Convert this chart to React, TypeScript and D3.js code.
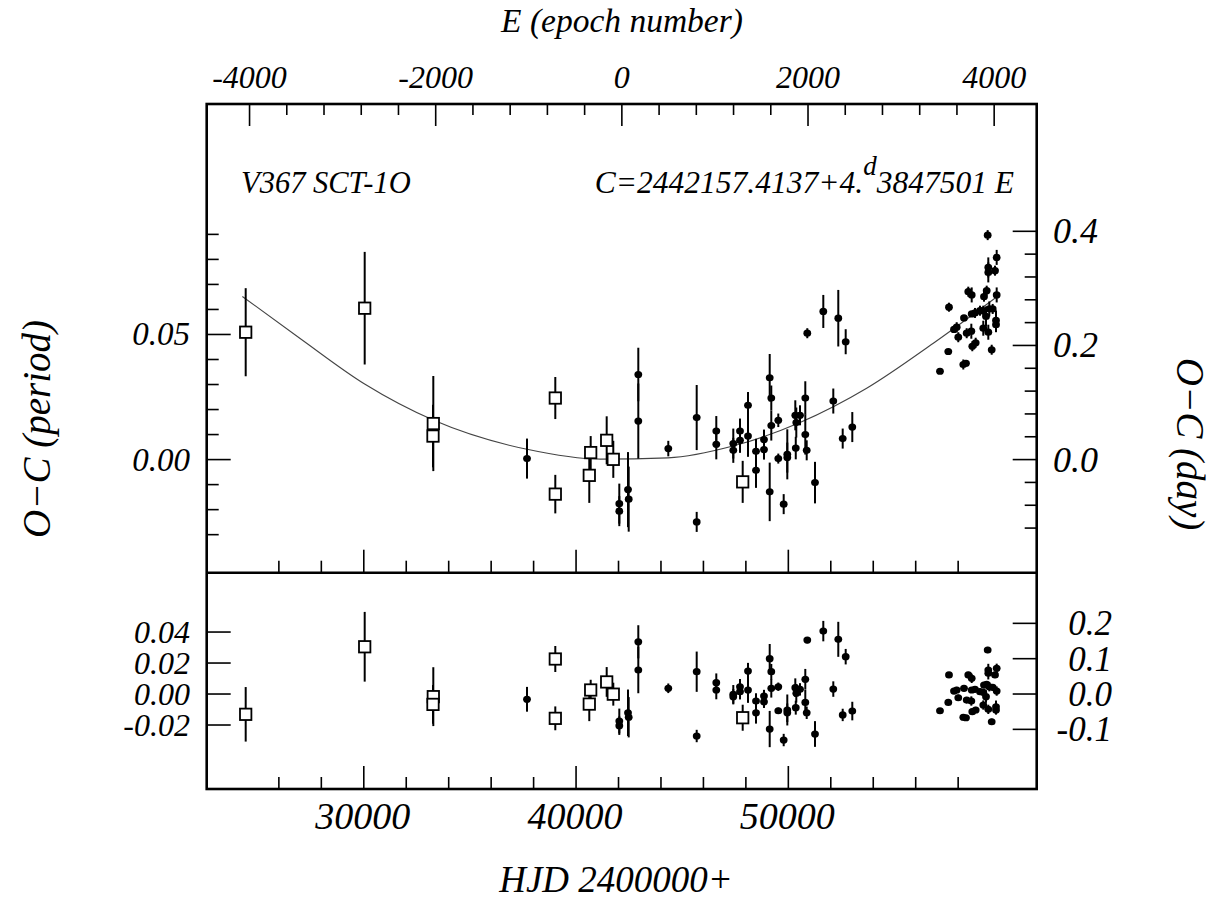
import * as d3 from 'd3';

// ephemeris C = T0 + P * E
const T0 = 42157.4137;
const P = 4.3847501;

// photographic / visual timings (open squares): [HJD-2400000, O-C (period), error, residual]
const SQUARES: [number, number, number, number][] = [
  [24437, 0.0509, 0.0176, -0.0131],
  [30043, 0.0605, 0.0225, 0.0305],
  [33275, 0.0144, 0.019, -0.0017],
  [33260, 0.0094, 0.0125, -0.0067],
  [39022, 0.0246, 0.0084, 0.0226],
  [39022, -0.0138, 0.0077, -0.0157],
  [40689, 0.0028, 0.0066, 0.0026],
  [40623, -0.0063, 0.011, -0.0065],
  [41443, 0.0077, 0.0096, 0.0078],
  [41754, 0.0001, 0.0074, -0.0001],
  [47850, -0.0089, 0.0084, -0.0153],
];

// photoelectric / CCD timings (filled dots)
const DOTS: [number, number, number, number][] = [
  [37689, 0.0004, 0.008, -0.0034],
  [42037, -0.0176, 0.008, -0.0174],
  [42037, -0.0206, 0.006, -0.0204],
  [42447, -0.012, 0.015, -0.0121],
  [42480, -0.0158, 0.013, -0.015],
  [42932, 0.034, 0.0107, 0.0337],
  [42932, 0.0154, 0.015, 0.0155],
  [44345, 0.0044, 0.0031, 0.0037],
  [45683, 0.0168, 0.013, 0.0144],
  [45683, -0.0249, 0.004, -0.0271],
  [46606, 0.0114, 0.006, 0.0073],
  [46606, 0.0061, 0.006, 0.0026],
  [47407, 0.0064, 0.006, -0.0002],
  [47407, 0.0037, 0.005, -0.0017],
  [47723, 0.0114, 0.005, 0.0047],
  [47723, 0.0077, 0.005, 0.0015],
  [48100, 0.0217, 0.0053, 0.0148],
  [48100, 0.0094, 0.0083, 0.0026],
  [48477, 0.0033, 0.005, -0.0045],
  [48477, -0.0043, 0.007, -0.0121],
  [48853, 0.008, 0.004, -0.0013],
  [48853, 0.004, 0.004, -0.005],
  [49122, 0.0327, 0.0095, 0.0228],
  [49197, 0.0246, 0.005, 0.0144],
  [49197, 0.0136, 0.006, 0.0037],
  [49122, -0.0129, 0.0117, -0.0226],
  [49527, 0.0157, 0.0027, 0.0047],
  [49527, 0.0004, 0.002, -0.0108],
  [49781, -0.0178, 0.004, -0.0297],
  [49951, 0.0021, 0.01, -0.0103],
  [49951, 0.0008, 0.006, -0.0121],
  [50328, 0.0177, 0.006, 0.0041],
  [50375, 0.0148, 0.006, 0.0005],
  [50350, 0.0046, 0.0045, -0.0088],
  [50550, 0.0177, 0.004, 0.003],
  [50799, 0.0246, 0.0067, 0.0095],
  [50799, 0.01, 0.008, -0.0054],
  [50865, 0.0037, 0.004, -0.0121],
  [50893, 0.0505, 0.002, 0.0348],
  [51256, -0.0092, 0.0083, -0.0258],
  [51647, 0.0592, 0.0066, 0.0406],
  [52118, 0.0234, 0.005, 0.0032],
  [52353, 0.0565, 0.0113, 0.0353],
  [52561, 0.0084, 0.004, -0.0135],
  [52702, 0.0471, 0.005, 0.0241],
  [53013, 0.013, 0.006, -0.011],
  [57144, 0.0353, 0, -0.0108],
  [57535, 0.0432, 0, -0.0054],
  [57568, 0.0609, 0.0018, 0.0123],
  [57804, 0.052, 0.001, 0.0019],
  [57931, 0.0529, 0.002, 0.0026],
  [58006, 0.0489, 0.002, -0.0024],
  [58242, 0.038, 0.002, -0.015],
  [58369, 0.0385, 0.001, -0.0153],
  [58275, 0.0566, 0.001, 0.0037],
  [58402, 0.0505, 0.002, -0.0039],
  [58477, 0.0671, 0.002, 0.0123],
  [58638, 0.0658, 0.003, 0.0101],
  [58638, 0.0582, 0.001, 0.0026],
  [58620, 0.0513, 0.003, -0.0045],
  [58666, 0.0453, 0.002, -0.0114],
  [58826, 0.0467, 0.002, -0.0103],
  [58794, 0.0586, 0.002, 0.003],
  [59029, 0.0595, 0.002, 0.0015],
  [59184, 0.0595, 0.002, 0.0011],
  [59217, 0.0651, 0.002, 0.0058],
  [59184, 0.0525, 0.003, -0.0071],
  [59312, 0.0572, 0.004, -0.0017],
  [59344, 0.0675, 0.002, 0.0063],
  [59391, 0.0897, 0.002, 0.0284],
  [59420, 0.0768, 0.004, 0.0155],
  [59420, 0.0748, 0.004, 0.0134],
  [59420, 0.0509, 0.003, -0.0099],
  [59467, 0.0602, 0.003, 0.0047],
  [59580, 0.0439, 0.002, -0.0179],
  [59627, 0.0602, 0.002, 0.0043],
  [59736, 0.0755, 0.002, 0.0123],
  [59815, 0.0808, 0.003, 0.0166],
  [59815, 0.0658, 0.003, 0.0019],
  [59783, 0.0556, 0.004, -0.0082],
  [59783, 0.0539, 0.003, -0.0103],
];

// parabolic fit
const FIT_HJD = [24280, 27000, 30040, 33270, 37690, 41130, 44330, 47390, 50550, 53690, 56830, 59815];
const FIT_OC = [0.0652, 0.0484, 0.0302, 0.0158, 0.0041, 0.0002, 0.0007, 0.0054, 0.0148, 0.0285, 0.0465, 0.065];

// ticks
const E_MAJOR = [-4000, -2000, 0, 2000, 4000];
const E_MINOR = d3.range(-4000, 4001, 400);
const HJD_MAJOR = [30000, 40000, 50000];
const HJD_MINOR = d3.range(26000, 58001, 2000);
const UP_LEFT_MINOR = d3.range(-3, 10).map((i) => i / 100);
const UP_LEFT_MAJOR = [0, 0.05];
const UP_LEFT_LABELS = ['0.00', '0.05'];
const UP_RIGHT_MINOR = d3.range(-3, 11).map((i) => i * 0.04);
const UP_RIGHT_MAJOR = [0, 0.2, 0.4];
const UP_RIGHT_LABELS = ['0.0', '0.2', '0.4'];
const LO_LEFT = [-0.02, 0, 0.02, 0.04];
const LO_LEFT_LABELS = ['-0.02', '0.00', '0.02', '0.04'];
const LO_RIGHT = [-0.1, 0, 0.1, 0.2];
const LO_RIGHT_LABELS = ['-0.1', '0.0', '0.1', '0.2'];

const W = 1226;
const H = 909;
const L = 206.7;
const R = 1036.7;
const TOP = 104;
const MID = 572.7;
const BOT = 789;
const FONT = '"Liberation Serif", "DejaVu Serif", serif';

export default function App() {
  const x = d3.scaleLinear().domain([22600, 61700]).range([L, R]);
  const xE = d3.scaleLinear()
    .domain([(22600 - T0) / P, (61700 - T0) / P])
    .range([L, R]);
  const yU = d3.scaleLinear().domain([-0.0452, 0.1421]).range([MID, TOP]);
  const yUd = d3.scaleLinear().domain([-0.0452 * P, 0.1421 * P]).range([MID, TOP]);
  const yL = d3.scaleLinear().domain([-0.0613, 0.0783]).range([BOT, MID]);
  const yLd = d3.scaleLinear().domain([-0.0613 * P, 0.0783 * P]).range([BOT, MID]);

  const fitLine = d3.line<number>()
    .x((d) => x(d))
    .y((_, i) => yU(FIT_OC[i]))
    .curve(d3.curveMonotoneX);

  const isMajor = (arr: number[], v: number) => arr.some((m) => Math.abs(m - v) < 1e-9);
  const tick = { stroke: '#000', strokeWidth: 1.6 };
  const txt = { fontFamily: FONT, fontStyle: 'italic' as const, fill: '#000' };

  const panel = (y: d3.ScaleLinear<number, number>, key: 'up' | 'lo') => {
    const val = (d: [number, number, number, number]) => (key === 'up' ? d[1] : d[3]);
    return (
      <g>
        {[...SQUARES, ...DOTS].filter((d) => d[2] > 0).map((d, i) => (
          <line key={`e${i}`} x1={x(d[0])} x2={x(d[0])} y1={y(val(d) - d[2])} y2={y(val(d) + d[2])}
            stroke="#000" strokeWidth={2} />
        ))}
        {SQUARES.map((d, i) => (
          <rect key={`s${i}`} x={x(d[0]) - 5.7} y={y(val(d)) - 5.7} width={11.4} height={11.4}
            fill="#fff" stroke="#000" strokeWidth={1.8} />
        ))}
        {DOTS.map((d, i) => (
          <ellipse key={`d${i}`} cx={x(d[0])} cy={y(val(d))} rx={3.9} ry={3.6} fill="#000" />
        ))}
      </g>
    );
  };

  return (
    <svg width={W} height={H} style={{ position: 'absolute', left: 0, top: 0, background: '#fff' }}>
      <rect width={W} height={H} fill="#fff" />

      {/* top E axis */}
      {E_MINOR.map((e) => (
        <line key={`te${e}`} x1={xE(e)} x2={xE(e)} y1={TOP} y2={TOP + (isMajor(E_MAJOR, e) ? 22 : 11)} {...tick} />
      ))}
      {E_MAJOR.map((e) => (
        <text key={`tl${e}`} x={xE(e)} y={88} textAnchor="middle" fontSize={32} {...txt}>{e}</text>
      ))}
      <text x={622} y={32} textAnchor="middle" fontSize={33.5} {...txt}>E (epoch number)</text>

      {/* upper panel ticks */}
      {HJD_MINOR.map((h) => (
        <line key={`ub${h}`} x1={x(h)} x2={x(h)} y1={MID} y2={MID - (isMajor(HJD_MAJOR, h) ? 23 : 12)} {...tick} />
      ))}
      {UP_LEFT_MINOR.map((v) => (
        <line key={`ul${v}`} x1={L} x2={L + (isMajor(UP_LEFT_MAJOR, v) ? 24 : 12)} y1={yU(v)} y2={yU(v)} {...tick} />
      ))}
      {UP_RIGHT_MINOR.map((v) => (
        <line key={`ur${v}`} x1={R} x2={R - (isMajor(UP_RIGHT_MAJOR, v) ? 24 : 12)} y1={yUd(v)} y2={yUd(v)} {...tick} />
      ))}
      {UP_LEFT_MAJOR.map((v, i) => (
        <text key={`ull${v}`} x={190} y={yU(v) + 11} textAnchor="end" fontSize={33} {...txt}>{UP_LEFT_LABELS[i]}</text>
      ))}
      {UP_RIGHT_MAJOR.map((v, i) => (
        <text key={`url${v}`} x={1053} y={yUd(v) + 12} textAnchor="start" fontSize={36} {...txt}>{UP_RIGHT_LABELS[i]}</text>
      ))}

      {/* lower panel ticks */}
      {HJD_MINOR.map((h) => (
        <line key={`lb${h}`} x1={x(h)} x2={x(h)} y1={BOT} y2={BOT - (isMajor(HJD_MAJOR, h) ? 23 : 12)} {...tick} />
      ))}
      {LO_LEFT.map((v, i) => (
        <g key={`ll${v}`}>
          <line x1={L} x2={L + 24} y1={yL(v)} y2={yL(v)} {...tick} />
          <text x={190} y={yL(v) + 11} textAnchor="end" fontSize={32} {...txt}>{LO_LEFT_LABELS[i]}</text>
        </g>
      ))}
      {LO_RIGHT.map((v, i) => (
        <g key={`lr${v}`}>
          <line x1={R} x2={R - 24} y1={yLd(v)} y2={yLd(v)} {...tick} />
          <text x={1112} y={yLd(v) + 12} textAnchor="end" fontSize={35} {...txt}>{LO_RIGHT_LABELS[i]}</text>
        </g>
      ))}
      {HJD_MAJOR.map((h) => (
        <text key={`bl${h}`} x={x(h) - 1} y={829} textAnchor="middle" fontSize={38} {...txt}>{h}</text>
      ))}
      <text x={616} y={892} textAnchor="middle" fontSize={37} {...txt}>HJD 2400000+</text>

      {/* axis titles */}
      <text transform={`translate(50,429) rotate(-90)`} textAnchor="middle" fontSize={39} {...txt}>O−C (period)</text>
      <text transform={`translate(1177,444) rotate(90)`} textAnchor="middle" fontSize={39} {...txt}>O−C (day)</text>

      {/* annotations */}
      <text x={241} y={193} fontSize={30.5} {...txt}>V367 SCT-1O</text>
      <text x={1014} y={193} textAnchor="end" fontSize={31.5} {...txt}>
        C=2442157.4137+4.<tspan dy={-18} fontSize={27}>d</tspan><tspan dy={18}>3847501 E</tspan>
      </text>

      {/* fit curve */}
      <path d={fitLine(FIT_HJD) ?? ''} fill="none" stroke="#444" strokeWidth={1.1} />

      {panel(yU, 'up')}
      {panel(yL, 'lo')}

      {/* frames */}
      <rect x={L} y={TOP} width={R - L} height={BOT - TOP} fill="none" stroke="#000" strokeWidth={2.6} />
      <line x1={L} x2={R} y1={MID} y2={MID} stroke="#000" strokeWidth={2.4} />
    </svg>
  );
}
